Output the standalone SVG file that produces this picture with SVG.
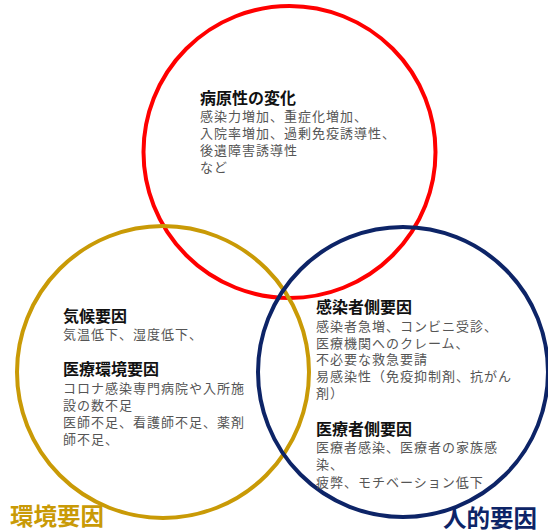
<svg xmlns="http://www.w3.org/2000/svg" width="548" height="532" viewBox="0 0 548 532">
<style>
.ring{fill:none;stroke-width:4}
.t{font-family:"Noto Sans CJK JP","Noto Sans",sans-serif;font-size:16px;font-weight:bold;fill:#111}
.b{font-family:"Noto Sans CJK JP","Noto Sans",sans-serif;font-size:13px;letter-spacing:1px;fill:#555}
.lbl{font-family:"Noto Sans CJK JP","Noto Sans",sans-serif;font-size:23.5px;font-weight:bold}
</style>
<rect width="548" height="532" fill="#fff"/>
<g id="pathogen">
<circle class="ring" cx="289.5" cy="152" r="146" stroke="#FF0000"/>
<text class="t" x="200" y="104">病原性の変化</text>
<text class="b" x="200" y="121">感染力増加、重症化増加、</text>
<text class="b" x="200" y="138">入院率増加、過剰免疫誘導性、</text>
<text class="b" x="200" y="155">後遺障害誘導性</text>
<text class="b" x="200" y="172">など</text>
</g>
<g id="environment">
<circle class="ring" cx="163" cy="372" r="146" stroke="#C99A06"/>
<text class="t" x="63" y="322">気候要因</text>
<text class="b" x="63" y="339">気温低下、湿度低下、</text>
<text class="t" x="63" y="375">医療環境要因</text>
<text class="b" x="63" y="393">コロナ感染専門病院や入所施</text>
<text class="b" x="63" y="410">設の数不足</text>
<text class="b" x="63" y="427">医師不足、看護師不足、薬剤</text>
<text class="b" x="63" y="444">師不足、</text>
<text class="lbl" x="10" y="525" fill="#C99A06">環境要因</text>
</g>
<g id="human">
<circle class="ring" cx="403" cy="372" r="145" stroke="#0D2467"/>
<text class="t" x="316" y="313">感染者側要因</text>
<text class="b" x="316" y="331">感染者急増、コンビニ受診、</text>
<text class="b" x="316" y="348">医療機関へのクレーム、</text>
<text class="b" x="316" y="364">不必要な救急要請</text>
<text class="b" x="316" y="381">易感染性（免疫抑制剤、抗がん</text>
<text class="b" x="316" y="398">剤）</text>
<text class="t" x="316" y="435">医療者側要因</text>
<text class="b" x="316" y="452">医療者感染、医療者の家族感</text>
<text class="b" x="316" y="469">染、</text>
<text class="b" x="316" y="487">疲弊、モチベーション低下</text>
<text class="lbl" x="443" y="527" fill="#0D2467">人的要因</text>
</g>
<g id="connectors"/>
</svg>
